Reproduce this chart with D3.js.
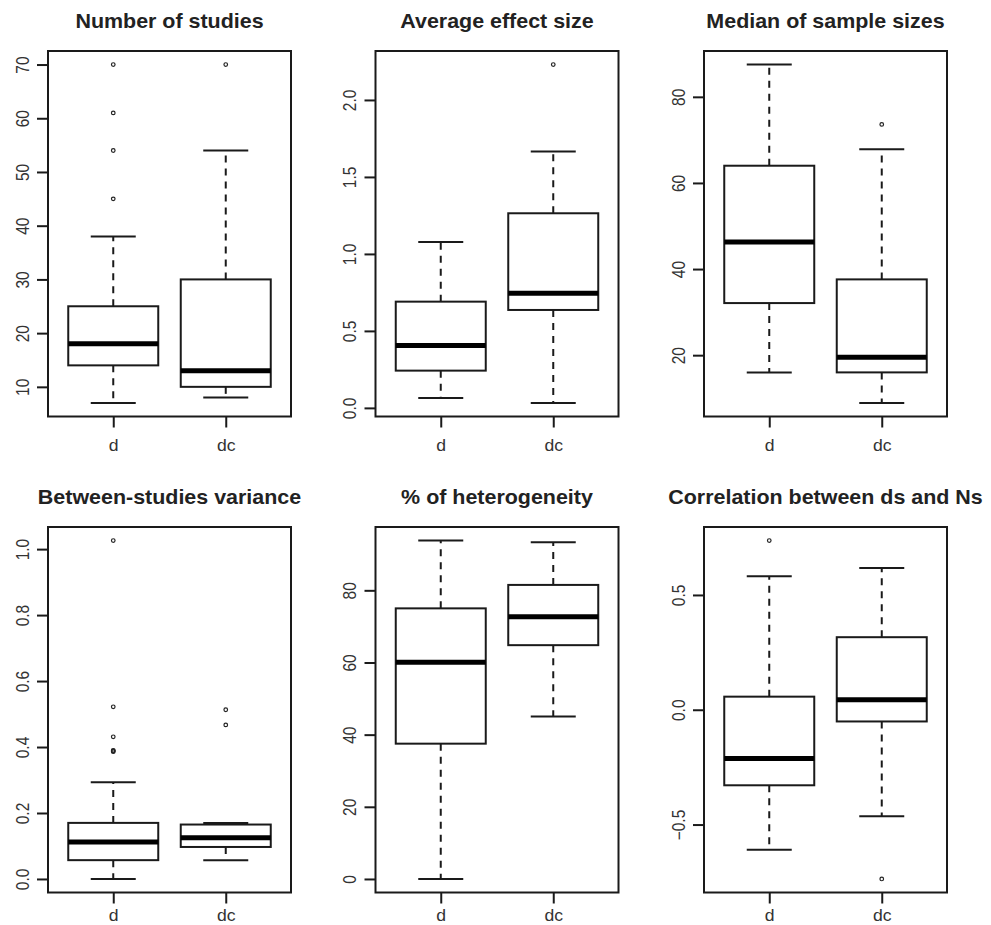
<!DOCTYPE html>
<html>
<head>
<meta charset="utf-8">
<script src="https://cdnjs.cloudflare.com/ajax/libs/d3/7.8.5/d3.min.js"></script>
<style>
html,body{margin:0;padding:0;background:#fff;}
svg{display:block;}
</style>
</head>
<body>
<svg id="chart" width="991" height="925"></svg>
<script>
// ---- data ----
const groups = ["d", "dc"];
const titles = ["Number of studies", "Average effect size", "Median of sample sizes",
                "Between-studies variance", "% of heterogeneity", "Correlation between ds and Ns"];

// five-number summaries [lower whisker, Q1, median, Q3, upper whisker] for d and dc
const studiesStats  = [[7, 14, 18, 25, 38], [8, 10, 13, 30, 54]];
const effectStats   = [[0.065, 0.242, 0.405, 0.69, 1.078], [0.032, 0.636, 0.744, 1.264, 1.666]];
const sampleStats   = [[16, 32.1, 46.3, 64, 87.5], [8.9, 16, 19.5, 37.6, 67.8]];
const varianceStats = [[0, 0.057, 0.112, 0.170, 0.293], [0.057, 0.097, 0.125, 0.165, 0.170]];
const heteroStats   = [[0, 37.5, 60.1, 75.0, 93.8], [45.0, 64.8, 72.7, 81.5, 93.3]];
const corrStats     = [[-0.610, -0.329, -0.212, 0.057, 0.581], [-0.464, -0.051, 0.044, 0.316, 0.617]];

// outliers
const studiesOut  = [[45, 54, 61, 70], [70]];
const effectOut   = [[], [2.23]];
const sampleOut   = [[], [73.6]];
const varianceOut = [[0.386, 0.388, 0.390, 0.431, 0.522, 1.026], [0.467, 0.513]];
const heteroOut   = [[], []];
const corrOut     = [[0.737], [-0.737]];

// tick values
const studiesTicks  = [10, 20, 30, 40, 50, 60, 70];
const effectTicks   = [0, 0.5, 1.0, 1.5, 2.0];
const sampleTicks   = [20, 40, 60, 80];
const varianceTicks = [0, 0.2, 0.4, 0.6, 0.8, 1.0];
const heteroTicks   = [0, 20, 40, 60, 80];
const corrTicks     = [-0.5, 0, 0.5];

const tickFormats = [d3.format("d"), d3.format(".1f"), d3.format("d"), d3.format(".1f"), d3.format("d"), d3.format(".1f")];

const panels = [
  {stats: studiesStats, out: studiesOut, ticks: studiesTicks},
  {stats: effectStats, out: effectOut, ticks: effectTicks},
  {stats: sampleStats, out: sampleOut, ticks: sampleTicks},
  {stats: varianceStats, out: varianceOut, ticks: varianceTicks},
  {stats: heteroStats, out: heteroOut, ticks: heteroTicks},
  {stats: corrStats, out: corrOut, ticks: corrTicks}
];

// ---- layout ----
const colLeft = [48, 375.5, 704];
const boxW = 243;
const rowTop = [51, 527];
const boxH = 365.5;
const xLabelOffset = [34, 28];
const ink = "#1a1a1a";
const labelColor = "#333";

const svg = d3.select("#chart");

panels.forEach((p, i) => {
  const col = i % 3, row = Math.floor(i / 3);
  const x0 = colLeft[col], y0 = rowTop[row];
  const g = svg.append("g").attr("transform", `translate(${x0},${y0})`);

  const all = p.stats.flat().concat(p.out.flat());
  const lo = d3.min(all), hi = d3.max(all);
  const pad = (hi - lo) * 0.04;
  const y = d3.scaleLinear().domain([lo - pad, hi + pad]).range([boxH, 0]);
  const x = d3.scaleLinear().domain([0.42, 2.58]).range([0, boxW]);
  const bw = x(1.4) - x(1.0);   // half box width (boxwex 0.8)
  const cw = bw / 2;            // half cap width

  // title
  g.append("text")
    .attr("transform", `translate(${boxW / 2},${-23}) scale(1.1,1)`)
    .attr("text-anchor", "middle")
    .attr("font-family", "Liberation Sans, Arial, sans-serif")
    .attr("font-weight", "bold")
    .attr("font-size", 19.5)
    .attr("fill", "#222")
    .text(titles[i]);

  // y axis (left)
  const yAxis = d3.axisLeft(y).tickValues(p.ticks).tickFormat(tickFormats[i]).tickSize(11).tickPadding(0);
  const ya = g.append("g").call(yAxis);
  ya.select(".domain").remove();
  ya.selectAll(".tick line").attr("stroke", ink).attr("stroke-width", 2);
  ya.selectAll(".tick text")
    .attr("x", null).attr("dy", null)
    .attr("text-anchor", "middle")
    .attr("dominant-baseline", "central")
    .attr("transform", "translate(-25,0) scale(1.15,1) rotate(-90)")
    .attr("font-family", "Liberation Sans, Arial, sans-serif")
    .attr("font-size", 15.5)
    .attr("fill", labelColor);

  // x axis (bottom)
  const xAxis = d3.axisBottom(x).tickValues([1, 2]).tickFormat((d) => groups[d - 1]).tickSize(11).tickPadding(0);
  const xa = g.append("g").attr("transform", `translate(0,${boxH})`).call(xAxis);
  xa.select(".domain").remove();
  xa.selectAll(".tick line").attr("stroke", ink).attr("stroke-width", 2);
  xa.selectAll(".tick text")
    .attr("y", null).attr("dy", null)
    .attr("transform", `translate(0,${xLabelOffset[row]}) scale(1.1,1)`)
    .attr("text-anchor", "middle")
    .attr("font-family", "Liberation Sans, Arial, sans-serif")
    .attr("font-size", 16)
    .attr("fill", labelColor);

  // boxes
  p.stats.forEach((s, k) => {
    const cx = x(k + 1);
    const [wl, q1, med, q3, wu] = s;
    const bg = g.append("g");
    // whiskers dashed
    bg.append("line").attr("x1", cx).attr("x2", cx).attr("y1", y(q3)).attr("y2", y(wu))
      .attr("stroke", ink).attr("stroke-width", 2).attr("stroke-dasharray", "7,6");
    bg.append("line").attr("x1", cx).attr("x2", cx).attr("y1", y(q1)).attr("y2", y(wl))
      .attr("stroke", ink).attr("stroke-width", 2).attr("stroke-dasharray", "7,6");
    // caps
    [wl, wu].forEach(v => {
      bg.append("line").attr("x1", cx - cw).attr("x2", cx + cw).attr("y1", y(v)).attr("y2", y(v))
        .attr("stroke", ink).attr("stroke-width", 2);
    });
    // box
    bg.append("rect").attr("x", cx - bw).attr("width", 2 * bw)
      .attr("y", y(q3)).attr("height", y(q1) - y(q3))
      .attr("fill", "white").attr("stroke", ink).attr("stroke-width", 2);
    // median
    bg.append("line").attr("x1", cx - bw).attr("x2", cx + bw).attr("y1", y(med)).attr("y2", y(med))
      .attr("stroke", "#000").attr("stroke-width", 5);
    // outliers
    bg.selectAll("circle.o").data(p.out[k]).enter().append("circle")
      .attr("class", "o")
      .attr("cx", cx).attr("cy", v => y(v)).attr("r", 1.8)
      .attr("fill", "none").attr("stroke", "#222").attr("stroke-width", 1.2);
  });

  // frame
  g.append("rect").attr("x", 0).attr("y", 0).attr("width", boxW).attr("height", boxH)
    .attr("fill", "none").attr("stroke", ink).attr("stroke-width", 2);
});
</script>
</body>
</html>
